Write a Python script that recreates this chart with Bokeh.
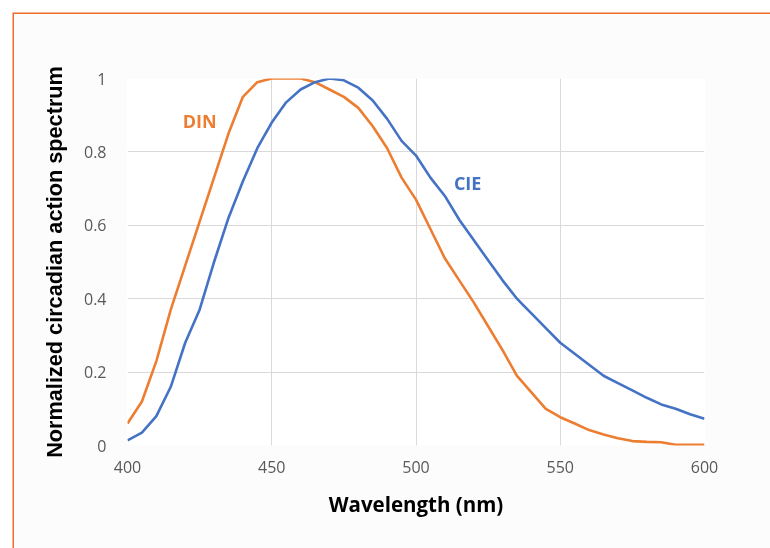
from bokeh.plotting import figure
from bokeh.models import FixedTicker, CustomJSTickFormatter
from bokeh.core.properties import value
from bokeh.embed import file_html
from bokeh.resources import INLINE

wavelength = [400, 405, 410, 415, 420, 425, 430, 435, 440, 445, 450, 455, 460, 465, 470,
              475, 480, 485, 490, 495, 500, 505, 510, 515, 520, 525, 530, 535, 540, 545,
              550, 555, 560, 565, 570, 575, 580, 585, 590, 595, 600]
din = [0.06, 0.12, 0.23, 0.37, 0.49, 0.61, 0.73, 0.85, 0.95, 0.99, 1.00, 1.00, 1.00, 0.99, 0.97,
       0.95, 0.92, 0.87, 0.81, 0.73, 0.67, 0.59, 0.51, 0.45, 0.39, 0.325, 0.26, 0.19, 0.145, 0.10,
       0.077, 0.06, 0.042, 0.03, 0.02, 0.012, 0.01, 0.009, 0.002, 0.002, 0.002]
cie = [0.014, 0.035, 0.08, 0.16, 0.28, 0.37, 0.50, 0.62, 0.72, 0.81, 0.88, 0.935, 0.97, 0.99, 1.00,
       0.995, 0.975, 0.94, 0.89, 0.83, 0.79, 0.73, 0.68, 0.615, 0.56, 0.505, 0.45, 0.40, 0.36, 0.32,
       0.28, 0.25, 0.22, 0.19, 0.17, 0.15, 0.13, 0.112, 0.10, 0.085, 0.073]
x_ticks = [400, 450, 500, 550, 600]
y_ticks = [0, 0.2, 0.4, 0.6, 0.8, 1.0]
series_labels = ["DIN", "CIE"]

ORANGE = "#ED7D31"
BLUE = "#4472C4"
FRAME_ORANGE = "#EF6B2A"

p = figure(width=770, height=548, x_range=(400, 600), y_range=(0, 1),
           output_backend="svg", toolbar_location=None,
           min_border_left=113, min_border_right=80, min_border_top=64, min_border_bottom=117)
# page frame: only its top and left edges fall inside the window
p.styles = {"position": "fixed", "top": "13.5px", "left": "13.5px",
            "box-shadow": "-1.5px -1.5px 0 0 " + FRAME_ORANGE}
p.border_fill_color = "#FCFCFC"
p.background_fill_color = "white"
p.outline_line_color = None

p.line(wavelength, din, line_color=ORANGE, line_width=2.6)
p.line(wavelength, cie, line_color=BLUE, line_width=2.6)

p.text(x=[425.0], y=[0.884], text=[series_labels[0]], text_color=ORANGE,
       text_font=value("Open Sans"), text_font_style="bold", text_font_size="18px",
       text_align="center", text_baseline="middle")
p.text(x=[517.9], y=[0.716], text=[series_labels[1]], text_color=BLUE,
       text_font=value("Open Sans"), text_font_style="bold", text_font_size="18px",
       text_align="center", text_baseline="middle")

xax = p.xaxis[0]
yax = p.yaxis[0]
xax.ticker = FixedTicker(ticks=x_ticks)
yax.ticker = FixedTicker(ticks=y_ticks)
yax.formatter = CustomJSTickFormatter(code="""
    if (Math.abs(tick) < 1e-9) return '0';
    if (Math.abs(tick - 1) < 1e-9) return '1';
    return tick.toFixed(1);
""")

for ax in (xax, yax):
    ax.axis_line_color = None
    ax.major_tick_line_color = None
    ax.minor_tick_line_color = None
    ax.major_label_text_color = "#595959"
    ax.major_label_text_font = "Open Sans"
    ax.major_label_text_font_size = "16px"
    ax.axis_label_text_color = "black"
    ax.axis_label_text_font_style = "bold"

xax.axis_label = "Wavelength (nm)"
xax.axis_label_text_font = "Open Sans"
xax.axis_label_text_font_size = "20.5px"
xax.major_label_standoff = 9
xax.axis_label_standoff = 14

yax.axis_label = "Normalized circadian action spectrum"
yax.axis_label_text_font = "Liberation Sans"
yax.axis_label_text_font_size = "21.7px"
yax.major_label_standoff = 15
yax.axis_label_standoff = 14

p.xgrid.grid_line_color = "#D9D9D9"
p.ygrid.grid_line_color = "#D9D9D9"
p.xgrid.grid_line_width = 1
p.ygrid.grid_line_width = 1

open("out.html", "w").write(file_html(p, INLINE))
